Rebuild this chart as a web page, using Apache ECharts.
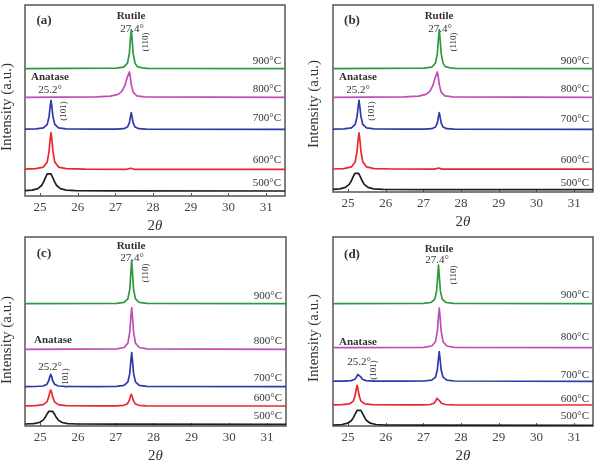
<!DOCTYPE html>
<html>
<head>
<meta charset="utf-8">
<script src="https://cdn.jsdelivr.net/npm/echarts@6/dist/echarts.min.js"></script>
<style>
  html, body { margin: 0; background: #fff; }
  #main { width: 600px; height: 466px; }
</style>
</head>
<body>
<div id="main"></div>
<script>
// 2-theta range and tick labels
const xMin = 24.6;
const xMax = 31.5;
const temps = ["500°C", "600°C", "700°C", "800°C", "900°C"];

// panel (a) - [2theta, intensity (a.u., offset)]
const a500 = [[24.6,5.3],[24.79,5.9],[24.94,7.4],[25.04,10.5],[25.09,13.8],[25.14,18.2],[25.19,22.1],[25.24,23.4],[25.29,22.1],[25.34,18.2],[25.39,13.8],[25.44,10.5],[25.54,7.4],[25.69,5.9],[25.94,5.4],[27.0,5.1],[31.5,5.0]];
const a600 = [[24.6,26.8],[24.89,27.3],[25.09,28.9],[25.19,34.0],[25.24,45.1],[25.265,56.1],[25.29,63.4],[25.315,56.1],[25.34,45.1],[25.39,34.0],[25.49,28.9],[25.69,27.3],[26.2,26.8],[27.3,26.7],[27.4,27.8],[27.5,26.7],[31.5,26.7]];
const a700 = [[24.6,66.8],[24.89,67.1],[25.09,68.1],[25.19,71.6],[25.24,79.8],[25.265,88.7],[25.29,95.7],[25.315,88.7],[25.34,79.8],[25.39,71.6],[25.49,68.1],[25.69,67.1],[26.5,66.8],[27.02,66.9],[27.22,67.3],[27.32,69.0],[27.37,73.2],[27.395,78.7],[27.42,83.4],[27.445,78.7],[27.47,73.2],[27.52,69.0],[27.62,67.3],[27.82,66.9],[31.5,66.7]];
const a800 = [[24.6,98.7],[26.5,99.2],[26.87,99.9],[27.07,101.7],[27.17,104.6],[27.25,110.3],[27.31,118.2],[27.37,124.0],[27.395,118.9],[27.42,111.4],[27.47,103.8],[27.57,100.2],[27.77,99.1],[31.5,98.7]];
const a900 = [[24.6,127.4],[27.02,127.8],[27.22,128.9],[27.32,132.9],[27.37,142.6],[27.395,155.5],[27.42,166.4],[27.445,155.5],[27.47,142.6],[27.52,132.9],[27.58,129.4],[27.63,129.8],[27.7,128.2],[27.85,127.7],[31.5,127.4]];

// panel (b)
const b500 = [[24.6,2.6],[24.78,3.2],[24.93,4.6],[25.03,7.6],[25.08,10.7],[25.13,14.9],[25.18,18.6],[25.23,19.8],[25.28,18.6],[25.33,14.9],[25.38,10.7],[25.43,7.6],[25.53,4.6],[25.68,3.2],[25.93,2.6],[27.0,2.4],[31.5,2.3]];
const b600 = [[24.6,23.0],[24.89,23.4],[25.09,25.1],[25.19,30.2],[25.24,41.0],[25.265,52.0],[25.29,59.2],[25.315,52.0],[25.34,41.0],[25.39,30.2],[25.49,25.1],[25.69,23.4],[26.2,23.0],[27.3,22.9],[27.4,24.0],[27.5,22.9],[31.5,22.9]];
const b700 = [[24.6,62.8],[24.89,63.1],[25.09,64.1],[25.19,67.6],[25.24,75.8],[25.265,84.7],[25.29,91.7],[25.315,84.7],[25.34,75.8],[25.39,67.6],[25.49,64.1],[25.69,63.1],[26.5,62.8],[27.02,62.9],[27.22,63.3],[27.32,65.0],[27.37,69.2],[27.395,74.7],[27.42,79.4],[27.445,74.7],[27.47,69.2],[27.52,65.0],[27.62,63.3],[27.82,62.9],[31.5,62.7]];
const b800 = [[24.6,94.7],[26.5,95.2],[26.87,95.9],[27.07,97.7],[27.17,100.6],[27.25,106.3],[27.31,114.2],[27.37,120.0],[27.395,114.9],[27.42,107.4],[27.47,99.8],[27.57,96.2],[27.77,95.1],[31.5,94.7]];
const b900 = [[24.6,123.4],[27.02,123.8],[27.22,124.9],[27.32,128.9],[27.37,138.6],[27.395,151.5],[27.42,162.4],[27.445,151.5],[27.47,138.6],[27.52,128.9],[27.58,125.4],[27.63,125.8],[27.7,124.2],[27.85,123.7],[31.5,123.4]];

// panel (c)
const c500 = [[24.6,2.0],[24.83,2.4],[24.98,3.5],[25.08,5.9],[25.13,8.4],[25.18,11.8],[25.23,14.7],[25.28,15.7],[25.33,14.7],[25.38,11.8],[25.43,8.4],[25.48,5.9],[25.58,3.5],[25.73,2.4],[25.98,2.0],[27.0,1.8],[31.5,1.7]];
const c600 = [[24.6,20.1],[24.88,20.35],[25.08,21.3],[25.18,24.2],[25.23,29.4],[25.255,33.6],[25.28,36.0],[25.305,33.6],[25.33,29.4],[25.38,24.2],[25.48,21.3],[25.68,20.35],[26.5,20.1],[27.01,20.2],[27.21,20.7],[27.31,22.3],[27.36,25.9],[27.385,29.4],[27.41,31.7],[27.435,29.4],[27.46,25.9],[27.51,22.3],[27.61,20.7],[27.81,20.2],[31.5,20.0]];
const c700 = [[24.6,39.4],[24.88,39.5],[25.08,40.0],[25.18,41.8],[25.23,45.5],[25.255,49.2],[25.28,51.7],[25.305,49.2],[25.33,45.5],[25.38,41.8],[25.48,40.0],[25.68,39.5],[26.5,39.4],[27.02,39.6],[27.22,40.6],[27.32,44.1],[27.37,52.6],[27.395,63.8],[27.42,73.3],[27.445,63.8],[27.47,52.6],[27.52,44.1],[27.62,40.6],[27.82,39.6],[31.5,39.3]];
const c800 = [[24.6,76.7],[27.02,77.2],[27.22,78.5],[27.32,82.9],[27.37,94.2],[27.395,107.5],[27.42,118.3],[27.445,107.5],[27.47,94.2],[27.52,82.9],[27.62,78.5],[27.82,77.2],[31.5,76.7]];
const c900 = [[24.6,122.3],[27.02,122.6],[27.22,123.6],[27.32,127.1],[27.37,136.7],[27.395,151.1],[27.42,166.0],[27.445,151.1],[27.47,136.7],[27.52,127.1],[27.62,123.6],[27.82,122.6],[31.5,122.3]];

// panel (d)
const d500 = [[24.6,1.0],[24.84,1.5],[24.99,2.8],[25.09,5.5],[25.14,8.4],[25.19,12.2],[25.24,15.6],[25.29,16.7],[25.34,15.6],[25.39,12.2],[25.44,8.4],[25.49,5.5],[25.59,2.8],[25.74,1.5],[25.99,1.0],[27.0,0.8],[31.5,0.7]];
const d600 = [[24.6,21.1],[24.84,21.3],[25.04,22.2],[25.14,24.9],[25.19,30.9],[25.215,36.8],[25.24,40.7],[25.265,36.8],[25.29,30.9],[25.34,24.9],[25.44,22.2],[25.64,21.3],[26.5,21.1],[26.98,21.1],[27.18,21.5],[27.28,22.7],[27.33,25.2],[27.355,27.6],[27.38,29.3],[27.405,27.6],[27.43,25.2],[27.48,22.7],[27.58,21.5],[27.78,21.1],[31.5,21.0]];
const d700 = [[24.6,44.8],[24.88,44.9],[25.08,45.4],[25.18,46.8],[25.23,49.4],[25.255,51.5],[25.28,52.7],[25.305,51.5],[25.33,49.4],[25.38,46.8],[25.48,45.4],[25.68,44.9],[26.5,44.8],[27.02,45.0],[27.22,45.8],[27.32,48.8],[27.37,56.2],[27.395,66.0],[27.42,74.3],[27.445,66.0],[27.47,56.2],[27.52,48.8],[27.62,45.8],[27.82,45.0],[31.5,44.7]];
const d800 = [[24.6,78.3],[27.02,78.7],[27.22,80.0],[27.32,84.3],[27.37,95.0],[27.395,107.7],[27.42,118.0],[27.445,107.7],[27.47,95.0],[27.52,84.3],[27.62,80.0],[27.82,78.7],[31.5,78.3]];
const d900 = [[24.6,122.3],[27.0,122.6],[27.2,123.5],[27.3,126.6],[27.35,135.1],[27.375,147.8],[27.4,161.0],[27.425,147.8],[27.45,135.1],[27.5,126.6],[27.6,123.5],[27.8,122.6],[31.5,122.3]];

const colors = ["#1f1f1f", "#e8282c", "#2e3aa8", "#c04cb6", "#2b9a3c"];
const serif = "'Liberation Serif', 'DejaVu Serif', serif";

// layout of the four panels (pixels) and where their texts go
const panels = [
  { tag: "(a)", data: [a500, a600, a700, a800, a900], left: 25, top: 5, width: 260, height: 191,
    tempY: [183, 160, 118, 89, 61], tagXY: [44, 21], rut: [131, 16], rutA: [132, 29], r110: [146, 42],
    ana: [50, 77], anaA: [50, 90], a101: [64, 111], ylab: [7, 107] },
  { tag: "(b)", data: [b500, b600, b700, b800, b900], left: 333, top: 5, width: 260, height: 187,
    tempY: [183, 160, 119, 89, 61], tagXY: [352, 21], rut: [439, 16], rutA: [440, 29], r110: [454, 42],
    ana: [358, 77], anaA: [358, 90], a101: [372, 111], ylab: [314, 104] },
  { tag: "(c)", data: [c500, c600, c700, c800, c900], left: 25, top: 237, width: 261, height: 189,
    tempY: [416, 398, 378, 341, 296], tagXY: [44, 254], rut: [131, 246], rutA: [132, 258], r110: [146, 273],
    ana: [53, 340], anaA: [50, 367], a101: [66, 378], ylab: [7, 340] },
  { tag: "(d)", data: [d500, d600, d700, d800, d900], left: 333, top: 237, width: 260, height: 189,
    tempY: [416, 399, 375, 337, 295], tagXY: [352, 255], rut: [439, 249], rutA: [437, 260], r110: [454, 275],
    ana: [358, 342], anaA: [359, 362], a101: [374, 370], ylab: [314, 338] }
];

function txt(x, y, text, size, opts) {
  opts = opts || {};
  return {
    type: "text", x: x, y: y, rotation: opts.rot || 0, silent: true,
    style: {
      text: text, fill: opts.color || "#333",
      font: (opts.italic ? "italic " : "") + (opts.bold ? "bold " : "") + size + "px " + serif,
      align: opts.align || "center", verticalAlign: "middle",
      textAlign: opts.align || "center", textVerticalAlign: "middle"
    }
  };
}

const grid = [], xAxis = [], yAxis = [], series = [], graphic = [];

panels.forEach((p, i) => {
  grid.push({
    left: p.left, top: p.top, width: p.width, height: p.height,
    show: true, borderColor: "#555", borderWidth: 1.5, backgroundColor: "transparent"
  });
  xAxis.push({
    gridIndex: i, type: "value", min: xMin, max: xMax, splitNumber: 7,
    axisLine: { show: false },
    axisTick: { inside: true, length: 3, lineStyle: { color: "#555", width: 1 } },
    splitLine: { show: false },
    axisLabel: {
      fontFamily: serif, fontSize: 13, color: "#444", margin: 5,
      showMinLabel: false, showMaxLabel: false,
      formatter: v => (Math.abs(v - Math.round(v)) < 1e-6 ? String(Math.round(v)) : "")
    }
  });
  yAxis.push({ gridIndex: i, type: "value", min: 0, max: p.height, show: false });

  p.data.forEach((d, k) => {
    series.push({
      type: "line", xAxisIndex: i, yAxisIndex: i, data: d,
      showSymbol: false, symbol: "none", silent: true,
      lineStyle: { width: 1.7, color: colors[k], join: "round" }
    });
    graphic.push(txt(p.left + p.width - 4, p.tempY[k], temps[k], 11, { align: "right" }));
  });

  const cx = p.left + p.width / 2;
  const axisY = p.top + p.height;
  graphic.push({
    type: "text", x: cx, y: axisY + 30, silent: true,
    style: {
      text: "{n|2}{i|θ}", align: "center", verticalAlign: "middle",
      rich: {
        n: { fontFamily: serif, fontSize: 15, fill: "#333", color: "#333" },
        i: { fontFamily: serif, fontSize: 15, fontStyle: "italic", fill: "#333", color: "#333" }
      }
    }
  });
  graphic.push(txt(p.ylab[0], p.ylab[1], "Intensity (a.u.)", 15, { rot: Math.PI / 2 }));
  graphic.push(txt(p.tagXY[0], p.tagXY[1], p.tag, 13, { bold: true }));
  graphic.push(txt(p.rut[0], p.rut[1], "Rutile", 11, { bold: true }));
  graphic.push(txt(p.rutA[0], p.rutA[1], "27.4°", 11));
  graphic.push(txt(p.r110[0], p.r110[1], "(110)", 9, { rot: Math.PI / 2 }));
  graphic.push(txt(p.ana[0], p.ana[1], "Anatase", 11, { bold: true }));
  graphic.push(txt(p.anaA[0], p.anaA[1], "25.2°", 11));
  graphic.push(txt(p.a101[0], p.a101[1], "(101)", 9, { rot: Math.PI / 2 }));
});

const chart = echarts.init(document.getElementById("main"));
chart.setOption({
  animation: false,
  backgroundColor: "#fff",
  grid: grid,
  xAxis: xAxis,
  yAxis: yAxis,
  series: series,
  graphic: graphic
});
</script>
</body>
</html>
